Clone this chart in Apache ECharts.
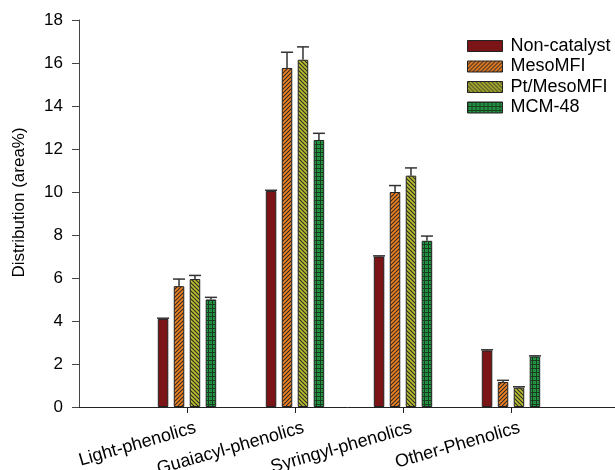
<!DOCTYPE html>
<html>
<head>
<meta charset="utf-8">
<script src="https://cdn.jsdelivr.net/npm/echarts@6/dist/echarts.min.js"></script>
<style>html,body{margin:0;padding:0;background:#fff}#c{width:615px;height:470px}</style>
</head>
<body>
<div id="c"></div>
<script>
const categories = ['Light-phenolics', 'Guaiacyl-phenolics', 'Syringyl-phenolics', 'Other-Phenolics'];
const seriesNames = ['Non-catalyst', 'MesoMFI', 'Pt/MesoMFI', 'MCM-48'];
const nonCatalyst = [4.1, 10.05, 7.0, 2.63];
const nonCatalystErr = [0.03, 0.03, 0.03, 0.03];
const mesoMFI = [5.62, 15.77, 10.0, 1.16];
const mesoMFIErr = [0.33, 0.73, 0.3, 0.08];
const ptMesoMFI = [5.95, 16.15, 10.76, 0.9];
const ptMesoMFIErr = [0.17, 0.6, 0.36, 0.04];
const mcm48 = [5.0, 12.42, 7.73, 2.35];
const mcm48Err = [0.1, 0.31, 0.22, 0.03];
const yTicks = {min: 0, max: 18, interval: 2};

const FONT = "'Liberation Sans', Arial, sans-serif";
const BAR_W = 10.5, BAR_GAP = 0.52;

function makePattern(bg, draw) {
  const c = document.createElement('canvas');
  c.width = 4; c.height = 4;
  const ctx = c.getContext('2d');
  ctx.fillStyle = bg; ctx.fillRect(0, 0, 4, 4);
  draw(ctx);
  return {image: c, repeat: 'repeat'};
}
const hatchDark = '#2a2a2a';
const patMeso = makePattern('#f5821f', ctx => {
  ctx.strokeStyle = hatchDark; ctx.lineWidth = 1.1;
  ctx.beginPath();
  ctx.moveTo(-1, 5); ctx.lineTo(5, -1);
  ctx.moveTo(-1, 1); ctx.lineTo(1, -1);
  ctx.moveTo(3, 5); ctx.lineTo(5, 3);
  ctx.stroke();
});
const patPt = makePattern('#bcc12b', ctx => {
  ctx.strokeStyle = hatchDark; ctx.lineWidth = 1.1;
  ctx.beginPath();
  ctx.moveTo(-1, -1); ctx.lineTo(5, 5);
  ctx.moveTo(3, -1); ctx.lineTo(5, 1);
  ctx.moveTo(-1, 3); ctx.lineTo(1, 5);
  ctx.stroke();
});
const patMcm = makePattern('#1f9a43', ctx => {
  ctx.fillStyle = '#1b3a22';
  ctx.fillRect(0, 0, 4, 1); ctx.fillRect(0, 0, 1, 4);
  ctx.fillStyle = '#2a6a38';
  ctx.fillRect(2, 2, 1, 1);
});
const fills = ['#7b1416', patMeso, patPt, patMcm];
const values = [nonCatalyst, mesoMFI, ptMesoMFI, mcm48];
const errs = [nonCatalystErr, mesoMFIErr, ptMesoMFIErr, mcm48Err];

const axisData = [''].concat(categories, ['']);

const series = [];
values.forEach((vals, s) => {
  series.push({
    name: seriesNames[s],
    type: 'bar',
    barWidth: BAR_W,
    barGap: (BAR_GAP * 100) + '%',
    data: [null].concat(vals, [null]),
    itemStyle: {color: fills[s], borderColor: '#222', borderWidth: 1},
    emphasis: {disabled: true},
    z: 2
  });
});
values.forEach((vals, s) => {
  const n = values.length;
  const offset = (s - (n - 1) / 2) * BAR_W * (1 + BAR_GAP);
  series.push({
    name: 'err' + s,
    type: 'custom',
    z: 3,
    silent: true,
    data: vals.map((v, i) => [i + 1, v, errs[s][i]]),
    renderItem: function (params, api) {
      const x = api.value(0), v = api.value(1), e = api.value(2);
      const p0 = api.coord([x, v]);
      const p1 = api.coord([x, v + e]);
      const cx = p0[0] + offset;
      const half = 6;
      return {
        type: 'group',
        children: [
          {type: 'line', shape: {x1: cx, y1: p0[1], x2: cx, y2: p1[1]}, style: {stroke: '#333', lineWidth: 1.5}},
          {type: 'line', shape: {x1: cx - half, y1: p1[1], x2: cx + half, y2: p1[1]}, style: {stroke: '#333', lineWidth: 1.5}}
        ]
      };
    }
  });
});

const chart = echarts.init(document.getElementById('c'), null, {renderer: 'canvas'});
chart.setOption({
  animation: false,
  backgroundColor: '#fff',
  textStyle: {fontFamily: FONT},
  grid: {left: 79, top: 20, bottom: 63, width: 540, containLabel: false, outerBoundsMode: 'none'},
  legend: {
    data: seriesNames,
    orient: 'vertical',
    left: 467, top: 37,
    padding: 0,
    icon: 'rect',
    itemWidth: 35, itemHeight: 11, itemGap: 2.5,
    selectedMode: false,
    textStyle: {fontSize: 18, color: '#000', fontFamily: FONT, padding: [0, 0, 0, 3]},
    itemStyle: {borderColor: '#222', borderWidth: 1}
  },
  xAxis: {
    type: 'category',
    data: axisData,
    boundaryGap: false,
    axisLine: {lineStyle: {color: '#222', width: 1}},
    axisTick: {inside: false, length: 6, interval: (i, v) => v !== '', lineStyle: {color: '#222'}},
    axisLabel: {interval: 0, rotate: 16, margin: 23, fontSize: 18, color: '#000', fontFamily: FONT, padding: [0, -9, 0, 0]},
    splitLine: {show: false}
  },
  yAxis: {
    type: 'value',
    min: yTicks.min, max: yTicks.max, interval: yTicks.interval,
    name: 'Distribution (area%)',
    nameLocation: 'middle',
    nameGap: 51,
    nameTextStyle: {fontSize: 17, color: '#000', fontFamily: FONT, padding: [0, 0, 0, 22]},
    axisLine: {show: true, lineStyle: {color: '#444', width: 1}},
    axisTick: {show: true, inside: false, length: 7, lineStyle: {color: '#444'}},
    axisLabel: {fontSize: 17, color: '#000', margin: 16, fontFamily: FONT},
    splitLine: {show: false}
  },
  series: series
});
</script>
</body>
</html>
